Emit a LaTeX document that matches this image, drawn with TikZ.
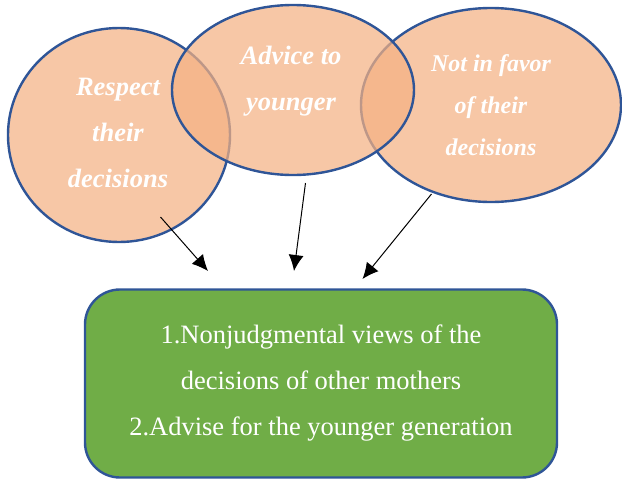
\documentclass[tikz,border=0pt]{standalone}
\usepackage{fontspec}
\setmainfont{Liberation Serif}
\usepackage{tikz}
\usetikzlibrary{shapes.geometric,arrows.meta}
\definecolor{peach}{RGB}{244,177,131}
\definecolor{rimblue}{RGB}{47,85,151}
\definecolor{leafgreen}{RGB}{112,173,71}
\tikzset{
	blob/.style 2 args={ellipse,draw=rimblue,line width=2.4pt,fill=peach,fill opacity=0.72,
		minimum width=#1,minimum height=#2,inner sep=0pt},
	blobtext/.style={text=white,align=center,font=\fontsize{26.5}{46}\selectfont\bfseries\itshape},
	result/.style={rectangle,rounded corners=35pt,draw=rimblue,line width=2.4pt,fill=leafgreen,
		text=white,align=center,font=\fontsize{26.5}{46}\selectfont},
	link/.style={line width=1pt,-{Latex[length=16pt,width=15pt]}}
}

\begin{document}
\begin{tikzpicture}[x=1pt,y=-1pt]
						\useasboundingbox (0,0) rectangle (622,480);

						\node [blob={222pt}{214pt}] (respect) at (119,135) {};
						\node [blob={260pt}{194pt}] (favor) at (491,105) {};
						\node [blob={242pt}{170pt}] (advice) at (293,90) {};

						\node [blobtext] (respecttxt) at (118,133) {Respect\\their\\decisions};
						\node [blobtext] (advicetxt) at (291,81) {Advice to\\younger};
						\node [blobtext,font=\fontsize{24}{42}\selectfont\bfseries\itshape] (favortxt) at (491,105) {Not in favor\\of their\\decisions};

						\node [result,minimum width=472pt,minimum height=188pt] (views) at (321,383.5)
							{1.Nonjudgmental views of the\\decisions of other mothers\\2.Advise for the younger generation};

						\coordinate (from1) at (160.5,217);
						\coordinate (from2) at (305.5,183);
						\coordinate (from3) at (431.5,194);
						\coordinate (to1) at (208,271);
						\coordinate (to2) at (294,271);
						\coordinate (to3) at (362.5,279);

						\draw [link] (from1) -- (to1);
						\draw [link] (from2) -- (to2);
						\draw [link] (from3) -- (to3);
					\end{tikzpicture}
\end{document}
